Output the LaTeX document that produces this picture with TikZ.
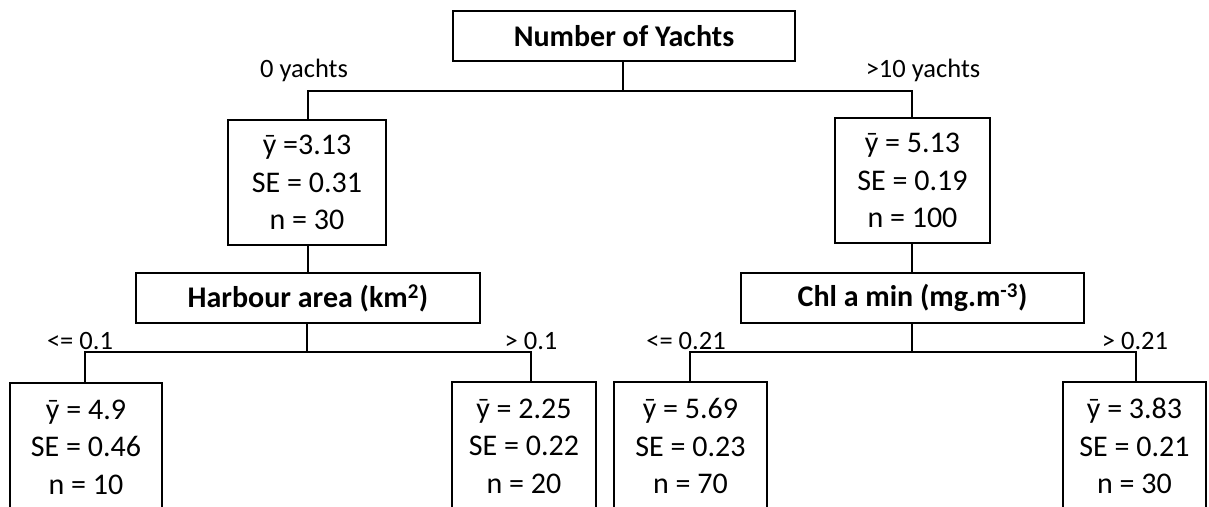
\documentclass[tikz,border=0pt]{standalone}
\usepackage{fontspec}
\setmainfont{Carlito}
\begin{document}
\begin{tikzpicture}[x=1pt,y=-1pt,
  box/.style={draw,line width=2pt,inner sep=0pt,align=center,font=\fontsize{30}{37.5}\selectfont},
  head/.style={box,font=\fontsize{30}{36}\selectfont\bfseries},
  lab/.style={inner sep=0pt,font=\fontsize{26.5}{30}\selectfont},
  edge/.style={line width=2pt}]
\useasboundingbox (0,0) rectangle (1209,506);
\clip (0,0) rectangle (1209,506);
% nodes
\node[head,minimum width=342pt,minimum height=50pt] (root) at (624,36) {Number of Yachts};
\node[box,minimum width=158pt,minimum height=125pt] (l1) at (307,182.5) {ȳ =3.13\\SE = 0.31\\n = 30};
\node[box,minimum width=155pt,minimum height=125pt] (r1) at (912.5,180.5) {ȳ = 5.13\\SE = 0.19\\n = 100};
\node[head,minimum width=344pt,minimum height=50pt] (harb) at (308,298) {Harbour area (km\textsuperscript{2})};
\node[head,minimum width=343pt,minimum height=50pt] (chl) at (912.5,298) {Chl a min (mg.m\textsuperscript{-3})};
\node[box,minimum width=152pt,minimum height=128pt] (ll) at (86,447) {ȳ = 4.9\\SE = 0.46\\n = 10};
\node[box,minimum width=144pt,minimum height=128pt] (lr) at (524,446) {ȳ = 2.25\\SE = 0.22\\n = 20};
\node[box,minimum width=153pt,minimum height=128pt] (rl) at (690.5,446) {ȳ = 5.69\\SE = 0.23\\n = 70};
\node[box,minimum width=143pt,minimum height=128pt] (rr) at (1134.5,446) {ȳ = 3.83\\SE = 0.21\\n = 30};
% labels
\node[lab] (t1) at (304,70) {0 yachts};
\node[lab] (t2) at (923,70) {>10 yachts};
\node[lab] (t3) at (80,341) {<= 0.1};
\node[lab] (t4) at (531,341) {> 0.1};
\node[lab] (t5) at (686,341) {<= 0.21};
\node[lab] (t6) at (1135,341) {> 0.21};
% connectors
\coordinate (b0) at (623,91);
\draw[edge] (root.south -| b0) -- (b0);
\coordinate (s1) at (308,91);
\coordinate (s2) at (912,91);
\draw[edge] (l1.north -| s1) |- (b0) -| (r1.north -| s2);
\draw[edge] (l1.south -| s1) -- (harb.north -| s1);
\draw[edge] (r1.south -| s2) -- (chl.north -| s2);
\coordinate (b1) at (307,352);
\draw[edge] (harb.south -| b1) -- (b1);
\coordinate (ll1) at (85,352);
\coordinate (lr1) at (531,352);
\draw[edge] (ll.north -| ll1) |- (b1) -| (lr.north -| lr1);
\coordinate (b2) at (912,352);
\draw[edge] (chl.south -| b2) -- (b2);
\coordinate (rl1) at (689.5,352);
\coordinate (rr1) at (1136,352);
\draw[edge] (rl.north -| rl1) |- (b2) -| (rr.north -| rr1);
\end{tikzpicture}
\end{document}
